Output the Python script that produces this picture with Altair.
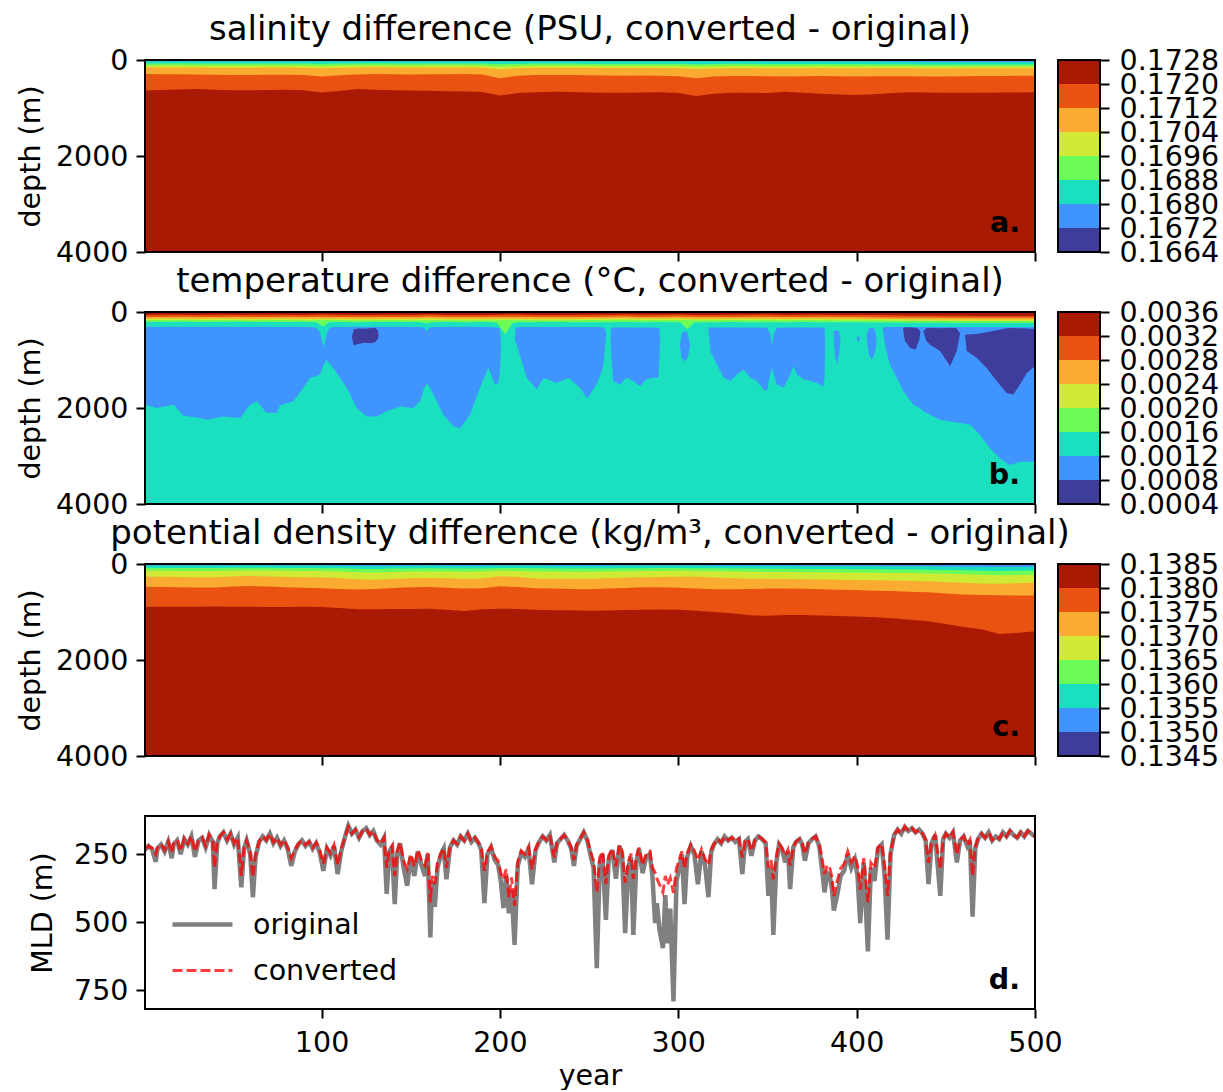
import altair as alt
import pandas as pd

FONT = "DejaVu Sans"
W, H = 890, 192
FS = 28.5
TFS = 34

# ---------------- colour bands (bottom -> top of colour bar) ----------------
band_colors = ["#3e3d9c", "#3f95fd", "#1be0c0", "#6cfc58", "#cfe935", "#fbab30", "#ea5211", "#aa1903"]
DBLUE, BLUE, CYAN, GREEN, YELLOW, LORANGE, ORANGE, DRED = band_colors

sal_levels = [0.1664, 0.1672, 0.1680, 0.1688, 0.1696, 0.1704, 0.1712, 0.1720, 0.1728]
temp_levels = [0.0004, 0.0008, 0.0012, 0.0016, 0.0020, 0.0024, 0.0028, 0.0032, 0.0036]
rho_levels = [0.1345, 0.1350, 0.1355, 0.1360, 0.1365, 0.1370, 0.1375, 0.1380, 0.1385]

years10 = [1, 10, 20, 30, 40, 50, 60, 70, 80, 90, 100, 110, 120, 130, 140, 150, 160, 170, 180, 190,
           200, 210, 220, 230, 240, 250, 260, 270, 280, 290, 300, 310, 320, 330, 340, 350, 360, 370,
           380, 390, 400, 410, 420, 430, 440, 450, 460, 470, 480, 490, 500]

# ---------------- panel a: salinity band boundaries (depth, m) ----------------
sal_blue_bottom = [25, 24, 26, 25, 27, 25, 24, 26, 25, 27, 24, 26, 25, 27, 26, 25, 27, 26, 25, 27,
                   24, 26, 28, 27, 26, 28, 27, 26, 28, 27, 26, 28, 27, 29, 28, 30, 29, 30, 31, 30,
                   32, 33, 35, 38, 40, 42, 40, 43, 42, 44, 42]
sal_cyan_bottom = [72, 71, 70, 72, 73, 74, 73, 72, 72, 73, 78, 74, 71, 70, 71, 72, 72, 71, 71, 72,
                   84, 77, 74, 74, 75, 76, 77, 78, 77, 78, 79, 86, 81, 79, 80, 81, 82, 82, 82, 83,
                   85, 86, 88, 90, 92, 92, 92, 93, 93, 94, 94]
sal_green_bottom = [118, 117, 116, 118, 120, 121, 120, 118, 118, 120, 128, 121, 116, 115, 116, 118, 117,
                    116, 116, 118, 140, 126, 121, 120, 121, 122, 124, 125, 124, 125, 127, 138, 130, 127,
                    127, 128, 129, 128, 127, 128, 130, 129, 130, 132, 134, 133, 133, 132, 132, 131, 130]
sal_yellow_bottom = [158, 156, 155, 157, 160, 162, 160, 158, 157, 160, 172, 162, 155, 153, 155, 157, 156,
                     155, 154, 158, 195, 170, 162, 160, 162, 164, 166, 168, 167, 168, 172, 190, 175, 170,
                     170, 172, 174, 172, 170, 172, 174, 172, 172, 174, 176, 175, 174, 173, 172, 171, 170]
sal_lorange_bottom = [292, 295, 298, 300, 305, 310, 312, 308, 306, 312, 345, 318, 300, 292, 296, 300, 298,
                      295, 292, 300, 378, 330, 312, 310, 315, 318, 322, 326, 325, 328, 340, 380, 345, 335,
                      332, 340, 345, 338, 335, 340, 345, 340, 338, 340, 345, 342, 338, 335, 332, 330, 328]
sal_orange_bottom = [638, 625, 612, 605, 618, 632, 630, 625, 622, 630, 675, 645, 605, 618, 630, 638, 642,
                     650, 655, 665, 740, 690, 670, 660, 665, 678, 682, 680, 676, 670, 690, 748, 705, 680,
                     684, 690, 662, 680, 702, 720, 730, 715, 690, 672, 675, 680, 682, 680, 678, 675, 672]

# ---------------- panel c: potential density band boundaries (depth, m) ----------------
rho_blue_bottom = [30, 29, 30, 31, 30, 29, 28, 29, 30, 31, 32, 34, 38, 40, 36, 34, 33, 34, 35, 34,
                   30, 31, 33, 34, 35, 36, 35, 33, 32, 32, 32, 33, 34, 36, 37, 38, 39, 40, 41, 42,
                   43, 44, 45, 47, 49, 52, 55, 58, 60, 60, 58]
rho_cyan_bottom = [80, 82, 84, 85, 84, 80, 78, 80, 82, 84, 86, 90, 100, 104, 96, 92, 90, 92, 94, 92,
                   82, 85, 90, 92, 94, 95, 92, 88, 86, 85, 84, 86, 90, 94, 96, 98, 100, 102, 104, 106,
                   108, 110, 112, 115, 118, 125, 132, 140, 145, 142, 138]
rho_green_bottom = [140, 142, 145, 148, 146, 140, 135, 138, 142, 145, 148, 155, 172, 176, 165, 158, 155,
                    158, 160, 158, 140, 145, 155, 158, 160, 160, 155, 150, 148, 145, 142, 145, 150, 158,
                    162, 165, 168, 170, 172, 175, 178, 182, 185, 190, 196, 205, 215, 225, 232, 230, 225]
rho_yellow_bottom = [265, 268, 272, 278, 275, 262, 252, 260, 270, 275, 280, 290, 320, 330, 310, 295, 292,
                     298, 305, 300, 255, 270, 300, 305, 305, 306, 295, 285, 275, 270, 266, 268, 280, 295,
                     305, 310, 315, 320, 325, 330, 334, 340, 345, 352, 360, 380, 392, 405, 410, 400, 390]
rho_lorange_bottom = [474, 478, 485, 492, 490, 470, 460, 470, 485, 495, 505, 520, 530, 520, 500, 485, 481,
                      495, 512, 505, 465, 480, 505, 512, 522, 525, 512, 500, 485, 482, 495, 510, 525, 528,
                      520, 512, 508, 515, 525, 535, 544, 555, 565, 578, 590, 615, 635, 645, 652, 655, 655]
rho_orange_bottom = [892, 892, 892, 890, 888, 890, 892, 894, 894, 892, 895, 915, 945, 945, 940, 935, 933,
                     955, 980, 945, 933, 935, 955, 962, 962, 975, 970, 960, 955, 948, 955, 975, 1000, 1025,
                     1070, 1080, 1065, 1060, 1073, 1085, 1095, 1108, 1130, 1160, 1195, 1250, 1310, 1360,
                     1460, 1440, 1400]

# ---------------- panel b: temperature ----------------
temp_dred_bottom = [60, 58, 55, 60, 58, 55, 60, 58, 56, 60, 50, 58, 62, 60, 58, 60, 50, 60, 62, 60,
                    55, 52, 60, 62, 60, 58, 55, 50, 58, 55, 50, 60, 62, 58, 55, 52, 60, 58, 55, 60,
                    62, 65, 70, 72, 75, 78, 80, 82, 85, 85, 85]
temp_orange_bottom = [105, 102, 100, 104, 102, 100, 104, 102, 100, 104, 98, 102, 106, 104, 102, 104, 95,
                      104, 106, 104, 100, 98, 104, 106, 104, 102, 100, 96, 102, 100, 96, 104, 106, 102,
                      100, 98, 104, 102, 100, 104, 106, 108, 112, 114, 116, 118, 120, 120, 122, 122, 122]
temp_lorange_bottom = [140, 138, 136, 140, 138, 136, 140, 138, 136, 140, 134, 138, 142, 140, 138, 140, 132,
                       140, 142, 140, 136, 134, 140, 142, 140, 138, 136, 132, 138, 136, 132, 140, 142, 138,
                       136, 134, 140, 138, 136, 140, 142, 144, 148, 150, 152, 154, 156, 156, 158, 158, 158]
temp_yellow_bottom = [170, 168, 166, 170, 168, 166, 170, 168, 166, 170, 168, 168, 172, 170, 168, 170, 165,
                      170, 172, 170, 172, 166, 170, 172, 170, 168, 166, 164, 168, 166, 168, 170, 172, 168,
                      166, 165, 170, 168, 166, 170, 172, 174, 178, 180, 182, 184, 186, 186, 188, 188, 188]
temp_green_bottom = [(1, 205), (10, 208), (20, 205), (30, 210), (40, 206), (50, 205), (60, 208), (70, 210),
                     (80, 206), (90, 208), (97, 212), (101, 300), (104, 215), (110, 210), (120, 212),
                     (130, 210), (140, 208), (150, 210), (156, 212), (159, 240), (162, 212), (170, 210),
                     (180, 212), (190, 210), (198, 218), (203, 460), (207, 235), (210, 215), (220, 212),
                     (230, 210), (240, 212), (250, 215), (260, 212), (270, 210), (280, 212), (290, 210),
                     (301, 215), (305, 360), (309, 218), (320, 212), (330, 210), (340, 212), (350, 215),
                     (360, 212), (370, 210), (380, 212), (390, 214), (400, 215), (410, 218), (420, 220),
                     (430, 222), (440, 225), (450, 225), (460, 228), (470, 228), (480, 230), (490, 230),
                     (500, 230)]

# blue (0.0008-0.0012) regions: (year, top depth, bottom depth)
blue_seg_1 = [(1, 310, 1930), (7.5, 310, 2000), (17, 305, 1930), (22.5, 310, 2160), (32, 305, 2210),
              (35.6, 310, 2245), (45, 305, 2175), (54.3, 310, 2210), (60, 310, 1930), (63.6, 305, 1860),
              (69.2, 305, 2100), (74.8, 310, 2100), (76.7, 310, 1950), (84.2, 305, 1860), (89.8, 310, 1580),
              (93.5, 310, 1370), (97, 330, 1340), (99.1, 420, 1300), (101.2, 740, 1100), (102.9, 450, 990),
              (104.5, 330, 1080), (106.6, 315, 1165), (114.1, 310, 1580), (119.7, 305, 2000),
              (125.3, 310, 2175), (130.9, 305, 2175), (136.5, 310, 2070), (144, 305, 1970),
              (151.5, 310, 2000), (155.2, 310, 1860), (157.5, 330, 1600), (158.9, 400, 1480),
              (160.5, 330, 1560), (162.7, 315, 1720), (168.3, 310, 2140), (173.9, 305, 2380),
              (177.6, 310, 2420), (183.2, 305, 2140), (188.8, 310, 1580), (193.5, 315, 1160),
              (197.2, 325, 1510), (199.1, 330, 1480), (200.0, 340, 1250), (200.6, 700, 700)]
blue_seg_2 = [(208.3, 700, 700), (208.8, 330, 600), (209.5, 320, 700), (215, 315, 1370), (220.6, 315, 1610),
              (224.4, 315, 1370), (231.8, 315, 1480), (238.4, 315, 1370), (244.9, 315, 1580),
              (248.7, 315, 1790), (250.5, 315, 1720), (254.2, 315, 1500), (256.5, 320, 1300),
              (258, 330, 1100), (259, 360, 700), (259.6, 450, 450)]
blue_seg_3 = [(262.0, 500, 500), (262.4, 330, 900), (263.5, 325, 1442), (267.3, 325, 1510), (271, 325, 1370),
              (274.7, 325, 1440), (278.5, 325, 1545), (282.2, 325, 1400), (286, 325, 1370),
              (288.8, 330, 1370), (289.4, 340, 1000), (289.8, 600, 600)]
blue_seg_4 = [(301, 700, 700), (301.8, 450, 950), (303.5, 400, 1030), (305.3, 430, 960), (306.6, 700, 700)]
blue_seg_5 = [(316.8, 330, 330), (318, 325, 820), (321.7, 325, 1095), (325.4, 325, 1370), (329.2, 325, 1440),
              (332.9, 325, 1300), (336.6, 325, 1200), (340.4, 325, 1370), (344.1, 325, 1440),
              (347.8, 325, 1610), (349.7, 330, 1650), (351.5, 450, 1300), (352.5, 700, 1160),
              (353.5, 450, 1300), (355.3, 330, 1510), (359.1, 325, 1580), (362.8, 325, 1300),
              (364.6, 325, 1130), (366.5, 325, 1300), (370.2, 325, 1400), (374, 325, 1440),
              (377.7, 325, 1480), (381.4, 325, 1550), (382.0, 330, 1400), (382.4, 600, 600)]
blue_seg_6 = [(387, 420, 420), (387.8, 380, 900), (389, 385, 1100), (390.2, 400, 850), (391, 600, 600)]
blue_seg_7 = [(400, 540, 540), (401, 500, 640), (402, 540, 540)]
blue_seg_8 = [(405.5, 500, 500), (406.8, 345, 880), (408.5, 330, 1000), (410.3, 360, 850), (411.3, 600, 600)]
blue_seg_9 = [(414.5, 330, 330), (415.9, 320, 700), (418.7, 315, 1100), (422.5, 315, 1370), (426.2, 315, 1650),
              (431.8, 315, 1930), (435.5, 315, 2000), (437.4, 315, 2070), (441.2, 315, 2140),
              (446.8, 315, 2245), (452.4, 315, 2280), (458, 315, 2315), (463.6, 315, 2350),
              (469.2, 315, 2560), (474.8, 315, 2840), (480.4, 315, 3050), (486, 315, 3190),
              (491.6, 315, 3120), (497.2, 315, 3120), (500, 315, 3110)]
# dark blue (0.0004-0.0008) patches
dblue_seg_1 = [(117, 520, 520), (118, 360, 700), (121, 345, 660), (124, 350, 640), (127, 340, 650),
               (130, 330, 630), (131.5, 380, 560), (132, 500, 500)]
dblue_seg_2 = [(426, 350, 350), (427, 320, 600), (430, 320, 750), (433, 330, 780), (435, 360, 600),
               (435.8, 420, 420)]
dblue_seg_3 = [(437.4, 400, 400), (439, 340, 600), (441.2, 330, 680), (446.8, 340, 815), (452.4, 330, 1130),
               (456.1, 340, 815), (458, 450, 450)]
dblue_seg_4 = [(460.8, 470, 470), (461.7, 470, 815), (467.3, 460, 955), (472.9, 420, 1165), (478.5, 380, 1440),
               (484.1, 340, 1690), (487.9, 335, 1720), (491.6, 340, 1510), (495.4, 345, 1270),
               (499.9, 360, 1130)]

# ---------------- panel d: mixed layer depth (year, m) ----------------
mld_original = [(1,235),(3,220),(5,232),(7,278),(8,230),(10,215),(12,240),(14,205),(16,265),(17,215),(19,200),(21,250),(23,195),(25,215),(27,185),(29,260),(31,200),(33,190),(35,225),(37,180),(39,205),(40,378),(41.5,210),(43,185),(45,170),(47,200),(49,175),(51,215),(53,190),(55,372),(56.5,230),(58,200),(60,250),(61.5,408),(63,260),(65,205),(67,185),(69,200),(71,175),(73,210),(75,190),(77,220),(79,200),(81,230),(83,293),(85,240),(87,215),(89,200),(91,220),(93,205),(95,230),(97,210),(99,245),(101,311),(103,230),(105,255),(107,220),(109,323),(111,240),(113,190),(115,146),(117,175),(119,160),(121,190),(123,165),(125,155),(127,180),(129,165),(131,200),(133,215),(135,190),(136.5,396),(138,240),(139.5,225),(141,433),(142.5,245),(144,210),(146,300),(148,366),(150,260),(152,330),(154,240),(156,290),(158,330),(159.5,250),(161,555),(162,350),(163.5,443),(165,300),(167,250),(168.5,230),(170,342),(172,225),(174,200),(176,215),(178,185),(180,200),(182,175),(184,205),(186,190),(188,210),(189.5,235),(191.3,430),(193,250),(195,225),(197,270),(199,290),(200.5,350),(202,448),(203.5,330),(205,467),(206.5,380),(208.2,583),(210,293),(212,245),(214,260),(216,230),(218,360),(220,235),(222,205),(224,185),(226,200),(228,180),(230.5,280),(232,210),(234,195),(236,180),(238,200),(240,230),(241.5,293),(243,220),(245,195),(247,170),(249,200),(251,260),(252.5,300),(254.3,668),(256,280),(257.5,250),(259.4,491),(261,270),(263,235),(265,340),(267,220),(268.5,250),(270.2,540),(272,300),(273.5,260),(274.8,546),(276.5,280),(278,230),(280,320),(282,260),(284,250),(285.5,330),(287,503),(288,430),(289.5,528),(291.4,595),(292.7,400),(294,577),(295.5,450),(297.3,790),(299,350),(300.5,300),(302,250),(303.5,433),(305,260),(307,220),(309,250),(311,360),(313,240),(315,290),(316.9,408),(318.5,240),(320,215),(322,195),(324,210),(326,185),(328,200),(330,190),(332,205),(334,195),(335.9,323),(337.5,205),(339,195),(341,256),(343,200),(345,185),(347,195),(349,210),(350.5,403),(352,300),(353.3,546),(355,280),(356.5,215),(358,230),(360,280),(361.5,240),(362.7,378),(364.5,225),(366,205),(368,195),(369.5,215),(371,274),(373,210),(375,195),(377,185),(379,220),(380.5,300),(382,390),(383.5,320),(385,330),(386.2,380),(387.2,457),(389,403),(391,330),(393,310),(395,250),(397,300),(399,270),(400.5,330),(402,503),(404,280),(406.3,607),(408,300),(410,348),(412,230),(414,215),(415.7,330),(417.3,564),(419,250),(421,180),(423,160),(425,175),(427,150),(429,165),(431,155),(433,170),(435,160),(437,175),(438.7,200),(440.3,360),(442,210),(444,180),(446.9,403),(448.5,195),(450,175),(452,190),(454,170),(456.2,280),(458,200),(460,185),(462,220),(463.5,200),(465,479),(466.5,230),(468,195),(470,175),(472,190),(474,170),(476,200),(478,185),(480,195),(482,170),(484,185),(486,165),(488,180),(490,190),(492,170),(494,185),(496,165),(498,175),(500,185)]
mld_converted = [(1,230),(3,220),(5,228),(7,250),(8,226),(10,213),(12,235),(14,204),(16,245),(17,212),(19,198),(21,238),(23,193),(25,212),(27,184),(29,240),(31,198),(33,189),(35,220),(37,180),(39,202),(40,300),(41.5,206),(43,184),(45,170),(47,197),(49,175),(51,210),(53,190),(55,330),(56.5,226),(58,200),(60,245),(61.5,335),(63,250),(65,202),(67,185),(69,198),(71,175),(73,206),(75,190),(77,216),(79,198),(81,226),(83,265),(85,234),(87,212),(89,200),(91,216),(93,204),(95,226),(97,208),(99,238),(101,285),(103,226),(105,246),(107,216),(109,290),(111,232),(113,189),(115,150),(117,175),(119,160),(121,188),(123,165),(125,156),(127,178),(129,165),(131,198),(133,212),(135,190),(136.5,300),(138,234),(139.5,220),(141,330),(142.5,238),(144,208),(146,275),(148,305),(150,250),(152,295),(154,235),(156,272),(158,292),(159.5,245),(161,427),(162,330),(163.5,360),(165,282),(167,245),(168.5,228),(170,300),(172,222),(174,200),(176,212),(178,185),(180,200),(182,175),(184,203),(186,190),(188,208),(189.5,230),(191.3,311),(193,242),(195,222),(197,258),(199,275),(200.5,320),(202,342),(203.5,305),(205,410),(206.5,335),(208.2,440),(210,275),(212,238),(214,250),(216,226),(218,305),(220,230),(222,203),(224,185),(226,198),(228,180),(230.5,262),(232,207),(234,194),(236,180),(238,198),(240,226),(241.5,272),(243,216),(245,194),(247,170),(249,198),(251,245),(252.5,275),(254.3,390),(256,262),(257.5,240),(259.4,360),(261,256),(263,230),(265,295),(267,216),(268.5,240),(270.2,354),(272,278),(273.5,248),(274.8,340),(276.5,262),(278,226),(280,290),(282,248),(284,240),(285.5,300),(287,318),(288,340),(289.5,362),(291.4,390),(292.7,330),(294,362),(295.5,338),(297.3,392),(299,300),(300.5,272),(302,240),(303.5,305),(305,246),(307,216),(309,238),(311,272),(313,232),(315,268),(316.9,290),(318.5,232),(320,212),(322,194),(324,207),(326,185),(328,198),(330,189),(332,203),(334,194),(335.9,262),(337.5,203),(339,194),(341,238),(343,198),(345,185),(347,194),(349,207),(350.5,300),(352,272),(353.3,342),(355,258),(356.5,212),(358,226),(360,255),(361.5,234),(362.7,292),(364.5,222),(366,204),(368,194),(369.5,212),(371,250),(373,207),(375,194),(377,185),(379,216),(380.5,262),(382,322),(383.5,290),(385,302),(386.2,335),(387.2,403),(389,352),(391,302),(393,286),(395,240),(397,280),(399,256),(400.5,292),(402,380),(404,265),(406.3,427),(408,282),(410,302),(412,225),(414,212),(415.7,292),(417.3,403),(419,240),(421,180),(423,160),(425,175),(427,150),(429,165),(431,155),(433,170),(435,160),(437,175),(438.7,198),(440.3,282),(442,206),(444,180),(446.9,305),(448.5,194),(450,175),(452,190),(454,170),(456.2,252),(458,198),(460,185),(462,216),(463.5,198),(465,330),(466.5,225),(468,194),(470,175),(472,190),(474,170),(476,198),(478,185),(480,194),(482,170),(484,185),(486,165),(488,180),(490,188),(492,170),(494,184),(496,165),(498,175),(500,184)]

titles = ["salinity difference (PSU, converted - original)",
          "temperature difference (°C, converted - original)",
          "potential density difference (kg/m³, converted - original)"]
panel_labels = ["a.", "b.", "c.", "d."]

# ---------------- helpers ----------------
XSCALE = alt.Scale(domain=[1, 500], nice=False, zero=False)
ROW_GAP = 60
HD = 193


def xenc(show_labels):
    if show_labels:
        ax = alt.Axis(values=[100, 200, 300, 400, 500], labels=True, labelFlush=False, title="year",
                      tickSize=9, tickWidth=2, domain=False, grid=False, labelPadding=10, titlePadding=5,
                      format="d")
    else:
        ax = alt.Axis(values=[100, 200, 300, 400, 500], labels=False, title=None,
                      tickSize=9, tickWidth=2, domain=False, grid=False)
    return alt.X("year:Q", scale=XSCALE, axis=ax)


def ydepth(field):
    return alt.Y(f"{field}:Q", scale=alt.Scale(domain=[0, 4000], reverse=True, nice=False, zero=False),
                 axis=alt.Axis(values=[0, 2000, 4000], title="depth (m)", tickSize=9, tickWidth=2, format="d",
                               domain=False, grid=False, labelPadding=8, titlePadding=10))


def area(df, color, detail=False):
    enc = dict(x=xenc(False), y=ydepth("top"), y2=alt.Y2("bot:Q"))
    if detail:
        enc["detail"] = "seg:N"
    return alt.Chart(df).mark_area(color=color, clip=True, interpolate="linear", strokeWidth=0).encode(**enc)


def fill_to(years, bottoms, color):
    return area(pd.DataFrame({"year": years, "top": [0] * len(years), "bot": bottoms}), color)


def frame(h):
    return alt.Chart(pd.DataFrame({"f": [0]})).mark_rect(fillOpacity=0, stroke="black", strokeWidth=2).encode(
        x=alt.value(0), x2=alt.value(W), y=alt.value(0), y2=alt.value(h))


def label(text, h):
    return alt.Chart(pd.DataFrame({"t": [text]})).mark_text(
        align="right", baseline="alphabetic", fontSize=FS, fontWeight="bold", font=FONT, color="black"
    ).encode(text="t:N", x=alt.value(875), y=alt.value(h - 20))


def title_mark(text):
    return alt.Chart(pd.DataFrame({"t": [text]})).mark_text(
        align="center", baseline="alphabetic", fontSize=TFS, font=FONT, color="black"
    ).encode(text="t:N", x=alt.value(W / 2), y=alt.value(-20))


def colorbar(levels):
    df = pd.DataFrame({"lo": levels[:-1], "hi": levels[1:], "col": band_colors})
    bars = alt.Chart(df).mark_rect(strokeWidth=0).encode(
        x=alt.value(0), x2=alt.value(42),
        y=alt.Y("lo:Q", scale=alt.Scale(domain=[levels[0], levels[-1]], nice=False, zero=False),
                axis=alt.Axis(orient="right", values=levels, format=".4f", title=None, tickSize=9, tickWidth=2,
                              domain=False, grid=False, labelPadding=10, labelFlush=False, labelOverlap=False,
                              labelBound=False)),
        y2=alt.Y2("hi:Q"),
        color=alt.Color("col:N", scale=None))
    fr = alt.Chart(pd.DataFrame({"f": [0]})).mark_rect(fillOpacity=0, stroke="black", strokeWidth=2).encode(
        x=alt.value(0), x2=alt.value(42), y=alt.value(0), y2=alt.value(H))
    return alt.layer(bars, fr).properties(width=42, height=H)


def segs_df(segs):
    rows = [(i, y, t, b) for i, s in enumerate(segs) for (y, t, b) in s]
    return pd.DataFrame(rows, columns=["seg", "year", "top", "bot"])


edge_years = [1, 500]

# ---------------- panel a ----------------
layers_a = [fill_to(edge_years, [4000, 4000], DRED),
            fill_to(years10, sal_orange_bottom, ORANGE),
            fill_to(years10, sal_lorange_bottom, LORANGE),
            fill_to(years10, sal_yellow_bottom, YELLOW),
            fill_to(years10, sal_green_bottom, GREEN),
            fill_to(years10, sal_cyan_bottom, CYAN),
            fill_to(years10, sal_blue_bottom, BLUE),
            frame(H), label(panel_labels[0], H), title_mark(titles[0])]
main_a = alt.layer(*layers_a).properties(width=W, height=H)

# ---------------- panel b ----------------
layers_b = [fill_to(edge_years, [4000, 4000], CYAN),
            area(segs_df([blue_seg_1, blue_seg_2, blue_seg_3, blue_seg_4, blue_seg_5, blue_seg_6,
                          blue_seg_7, blue_seg_8, blue_seg_9]), BLUE, detail=True),
            area(segs_df([dblue_seg_1, dblue_seg_2, dblue_seg_3, dblue_seg_4]), DBLUE, detail=True),
            fill_to([p[0] for p in temp_green_bottom], [p[1] for p in temp_green_bottom], GREEN),
            fill_to(years10, temp_yellow_bottom, YELLOW),
            fill_to(years10, temp_lorange_bottom, LORANGE),
            fill_to(years10, temp_orange_bottom, ORANGE),
            fill_to(years10, temp_dred_bottom, DRED),
            frame(H), label(panel_labels[1], H), title_mark(titles[1])]
main_b = alt.layer(*layers_b).properties(width=W, height=H)

# ---------------- panel c ----------------
layers_c = [fill_to(edge_years, [4000, 4000], DRED),
            fill_to(years10, rho_orange_bottom, ORANGE),
            fill_to(years10, rho_lorange_bottom, LORANGE),
            fill_to(years10, rho_yellow_bottom, YELLOW),
            fill_to(years10, rho_green_bottom, GREEN),
            fill_to(years10, rho_cyan_bottom, CYAN),
            fill_to(years10, rho_blue_bottom, BLUE),
            frame(H), label(panel_labels[2], H), title_mark(titles[2])]
main_c = alt.layer(*layers_c).properties(width=W, height=H)

# ---------------- panel d ----------------
series_domain = ["original", "converted"]
# legend is placed by the top-level concat group: offset by the three panels above
leg = alt.Legend(orient="none", legendX=25, legendY=3 * (H + ROW_GAP) + 76, title=None, labelFontSize=FS,
                 labelFont=FONT, symbolType="stroke", symbolSize=3600, labelOffset=18, rowPadding=-13,
                 padding=0, labelColor="black")
df_o = pd.DataFrame(mld_original, columns=["year", "mld"])
df_o["series"] = "original"
df_c = pd.DataFrame(mld_converted, columns=["year", "mld"])
df_c["series"] = "converted"


def mld_line(df):
    return alt.Chart(df).mark_line(clip=True).encode(
        x=xenc(True),
        y=alt.Y("mld:Q", scale=alt.Scale(domain=[110, 818], reverse=True, nice=False, zero=False),
                axis=alt.Axis(values=[250, 500, 750], title="MLD (m)", tickSize=9, tickWidth=2,
                              domain=False, grid=False, labelPadding=8, titlePadding=16)),
        color=alt.Color("series:N", scale=alt.Scale(domain=series_domain, range=["#808080", "#ff0000"]), legend=leg),
        strokeDash=alt.StrokeDash("series:N", scale=alt.Scale(domain=series_domain, range=[[1, 0], [10, 4]]), legend=leg),
        strokeWidth=alt.StrokeWidth("series:N", scale=alt.Scale(domain=series_domain, range=[4.5, 3]), legend=leg),
        opacity=alt.Opacity("series:N", scale=alt.Scale(domain=series_domain, range=[1, 0.75]), legend=leg),
    )


main_d = alt.layer(mld_line(df_o), mld_line(df_c), frame(HD), label(panel_labels[3], HD)).properties(
    width=W, height=HD)

chart = alt.concat(
    main_a, colorbar(sal_levels),
    main_b, colorbar(temp_levels),
    main_c, colorbar(rho_levels),
    main_d,
    columns=2, spacing={"row": ROW_GAP, "column": 23}, bounds="flush",
).properties(
    padding={"left": 16, "top": 13, "right": 0, "bottom": 0},
    background="white",
).configure_view(stroke=None).configure_axis(
    labelFont=FONT, titleFont=FONT, labelFontSize=FS, titleFontSize=FS, titleFontWeight="normal",
    labelColor="black", titleColor="black", tickColor="black", zindex=1
).configure_title(font=FONT).configure_legend(labelFont=FONT).configure_text(font=FONT)

chart.save("out.html", embed_options={"renderer": "svg", "actions": False})
